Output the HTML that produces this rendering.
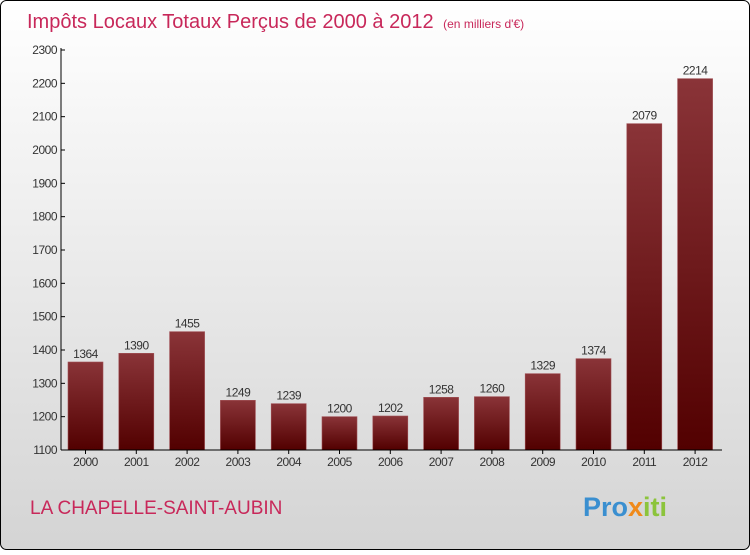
<!DOCTYPE html>
<html><head><meta charset="utf-8"><style>
body{margin:0;width:750px;height:550px;overflow:hidden;font-family:"Liberation Sans","DejaVu Sans",sans-serif}
</style></head><body>
<svg width="750" height="550">
<defs>
<linearGradient id="bg" x1="0" y1="0" x2="0" y2="1"><stop offset="0" stop-color="#ffffff"/><stop offset="1" stop-color="#d4d4d4"/></linearGradient>
<linearGradient id="bar" x1="0" y1="0" x2="0" y2="1"><stop offset="0" stop-color="#8a3438"/><stop offset="1" stop-color="#520000"/></linearGradient>
</defs>
<rect x="0.5" y="0.5" width="749" height="549" rx="6" fill="url(#bg)" stroke="#000"/>
<text x="27" y="28" font-size="20" fill="#c8285a">Impôts Locaux Totaux Perçus de 2000 à 2012 <tspan font-size="12" dx="4">(en milliers d'€)</tspan></text>
<g id="yaxis"></g>
<g id="bars"></g>
<g id="xaxis"></g>
<text x="30" y="514" font-size="19" fill="#c8285a">LA CHAPELLE-SAINT-AUBIN</text>
<text x="583" y="516" font-size="27" font-weight="bold" fill="#3a8fd0">Pro<tspan fill="#f08a1a">x</tspan><tspan fill="#8cc43c">iti</tspan></text>
</svg>
<script>
const years=["2000","2001","2002","2003","2004","2005","2006","2007","2008","2009","2010","2011","2012"];
const values=[1364,1390,1455,1249,1239,1200,1202,1258,1260,1329,1374,2079,2214];
const yTicks=[1100,1200,1300,1400,1500,1600,1700,1800,1900,2000,2100,2200,2300];
const NS="http://www.w3.org/2000/svg";
const y=v=>450-(v-1100)*400/1200;
const x=i=>68+i*50.8;
const bw=35;
function mk(t,a,p,txt){const e=document.createElementNS(NS,t);for(const k in a)e.setAttribute(k,a[k]);if(txt!=null)e.textContent=txt;p.appendChild(e);return e;}
const ya=document.getElementById('yaxis'),ba=document.getElementById('bars'),xa=document.getElementById('xaxis');
mk('line',{x1:61,y1:48,x2:61,y2:450,stroke:'#000'},ya);
mk('line',{x1:61,y1:450,x2:722,y2:450,stroke:'#000'},xa);
yTicks.forEach(t=>{
 mk('line',{x1:61,y1:y(t),x2:65,y2:y(t),stroke:'#000'},ya);
 const l=mk('text',{x:57,y:y(t)+4,'font-size':12,'text-anchor':'end',fill:'#333','letter-spacing':'-0.5'},ya,t);
 
 
});
years.forEach((yr,i)=>{
 const r=mk('rect',{x:x(i),y:y(values[i]),width:bw,height:450-y(values[i]),fill:'url(#bar)',stroke:'#a05055','stroke-width':0.6},ba);
 
 
 const v=mk('text',{x:x(i)+bw/2,y:y(values[i])-4,'font-size':12,'text-anchor':'middle',fill:'#333','letter-spacing':'-0.5'},ba,values[i]);
 
 
 mk('line',{x1:x(i)+bw/2,y1:450,x2:x(i)+bw/2,y2:454,stroke:'#000'},xa);
 const l=mk('text',{x:x(i)+bw/2,y:466,'font-size':12,'text-anchor':'middle',fill:'#333','letter-spacing':'-0.5'},xa,yr);
 
 
});
</script>
</body></html>
